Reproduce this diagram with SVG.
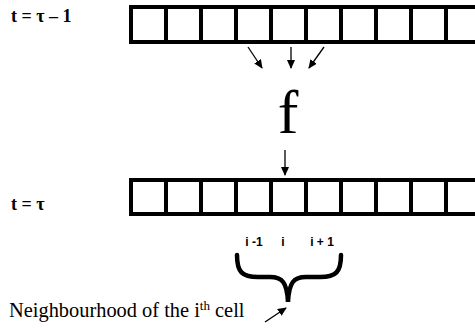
<svg xmlns="http://www.w3.org/2000/svg" width="475" height="328" viewBox="0 0 475 328">
<style>
.serif{font-family:"Liberation Serif","Times New Roman","DejaVu Serif",serif;fill:#000}
.lbl{font-weight:bold;font-size:18px}
.cell{fill:#fff;stroke:#000;stroke-width:4}
.idx{font-family:"Liberation Sans",Arial,sans-serif;font-weight:bold;font-size:12px;fill:#000;text-anchor:middle}
.arr{stroke:#000;stroke-width:1.3;fill:none;marker-end:url(#ah)}
</style>
<defs>
<marker id="ah" markerUnits="userSpaceOnUse" markerWidth="9" markerHeight="8" refX="8" refY="4" orient="auto">
<path d="M0,0 L9,4 L0,8 z" fill="#000"/>
</marker>
</defs>
<rect width="475" height="328" fill="#fff"/>
<g id="label-prev"><text class="serif lbl" x="11" y="22">t = τ – 1</text></g>
<g id="label-now"><text class="serif lbl" x="11" y="210">t = τ</text></g>
<g id="row-prev">
<rect class="cell" x="131" y="7" width="35" height="35"/>
<rect class="cell" x="166" y="7" width="35" height="35"/>
<rect class="cell" x="201" y="7" width="35" height="35"/>
<rect class="cell" x="236" y="7" width="35" height="35"/>
<rect class="cell" x="271" y="7" width="35" height="35"/>
<rect class="cell" x="306" y="7" width="35" height="35"/>
<rect class="cell" x="341" y="7" width="35" height="35"/>
<rect class="cell" x="376" y="7" width="35" height="35"/>
<rect class="cell" x="411" y="7" width="35" height="35"/>
<rect class="cell" x="446" y="7" width="35" height="35"/>
</g>
<g id="row-now">
<rect class="cell" x="131" y="180" width="35" height="34"/>
<rect class="cell" x="166" y="180" width="35" height="34"/>
<rect class="cell" x="201" y="180" width="35" height="34"/>
<rect class="cell" x="236" y="180" width="35" height="34"/>
<rect class="cell" x="271" y="180" width="35" height="34"/>
<rect class="cell" x="306" y="180" width="35" height="34"/>
<rect class="cell" x="341" y="180" width="35" height="34"/>
<rect class="cell" x="376" y="180" width="35" height="34"/>
<rect class="cell" x="411" y="180" width="35" height="34"/>
<rect class="cell" x="446" y="180" width="35" height="34"/>
</g>
<g id="func"><text class="serif" x="288" y="133" font-size="62" text-anchor="middle">f</text></g>
<g id="indices">
<text class="idx" x="254" y="246">i -1</text>
<text class="idx" x="283" y="246">i</text>
<text class="idx" x="322" y="246">i + 1</text>
</g>
<g id="brace"><path d="M237,255 C237,272 242,277 258,277 L270,277 C282,277 287,282 288,302 C289,282 294,277 306,277 L320,277 C336,277 341,272 341,255" fill="none" stroke="#000" stroke-width="4.5" stroke-linecap="round"/></g>
<g id="caption"><text class="serif" x="9" y="317" font-size="20.4">Neighbourhood of the i<tspan font-size="13" dy="-7">th</tspan><tspan dy="7"> cell</tspan></text></g>
<g id="connectors">
<line class="arr" x1="248" y1="47" x2="262" y2="68"/>
<line class="arr" x1="291" y1="47" x2="291" y2="68"/>
<line class="arr" x1="324" y1="47" x2="309" y2="68"/>
<line class="arr" x1="285" y1="150" x2="285" y2="175"/>
<line class="arr" x1="265" y1="322" x2="286" y2="308"/>
</g>
</svg>
